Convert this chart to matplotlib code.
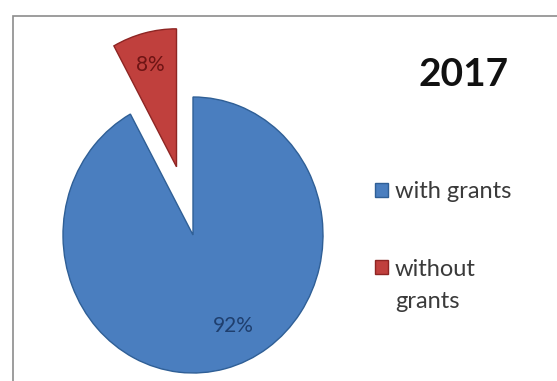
import matplotlib
matplotlib.use("Agg")
import matplotlib.pyplot as plt
from matplotlib.patches import Rectangle

# data
labels = ["with grants", "without"]
label_tail = "grants"          # second line of the "without grants" entry
shares = [92, 8]
year = "2017"

BLUE = "#4a7ebf"
RED = "#c0403d"
W, H = 557, 381
CX, CY = 193, 235      # pie centre, pixels from top-left
RX, RY = 130, 138      # pie radius, pixels

plt.rcParams["font.family"] = ["Lato", "DejaVu Sans"]

fig = plt.figure(figsize=(W / 100, H / 100), dpi=100)
fig.patch.set_facecolor("white")

# outer chart frame (cut off at right and bottom in the reference)
fig.add_artist(Rectangle((13 / W, -0.1), 1.2, 1.1 - 16 / H,
                         transform=fig.transFigure, fill=False,
                         edgecolor="#8c8c8c", linewidth=1.2))

ax = fig.add_axes([0, 0, 1, 1])
wedges, texts, autotexts = ax.pie(
    shares, colors=[BLUE, RED], startangle=90, counterclock=False,
    explode=[0, 0.51], autopct="%d%%", pctdistance=0.7,
    wedgeprops=dict(linewidth=1.0), frame=False)
ax.set_xlim(-CX / RX, (W - CX) / RX)
ax.set_ylim(-(H - CY) / RY, CY / RY)
ax.set_aspect("auto")
ax.axis("off")

wedges[0].set_edgecolor("#2f5f96")
wedges[1].set_edgecolor("#8e2523")

autotexts[0].set_position((0.31, -0.66))
autotexts[0].set_color("#1f3f6e")
autotexts[1].set_position((-0.33, 1.23))
autotexts[1].set_color("#6e1414")
for t in autotexts:
    t.set_fontsize(15)

fig.text(464 / W, 1 - 75 / H, year, fontsize=28, fontweight="bold",
         ha="center", va="center", color="#111111")

leg = fig.legend(wedges, labels, loc="upper left",
                 bbox_to_anchor=(375 / W, 1 - 181 / H), borderpad=0,
                 borderaxespad=0, frameon=False, fontsize=17,
                 handlelength=0.55, handleheight=0.55, handletextpad=0.3,
                 labelspacing=2.4)
for txt in leg.get_texts():
    txt.set_color("#3a3a3a")

fig.text(395 / W, 1 - 301 / H, label_tail, fontsize=17, color="#3a3a3a",
         ha="left", va="center")

fig.savefig("out.png", dpi=100)
